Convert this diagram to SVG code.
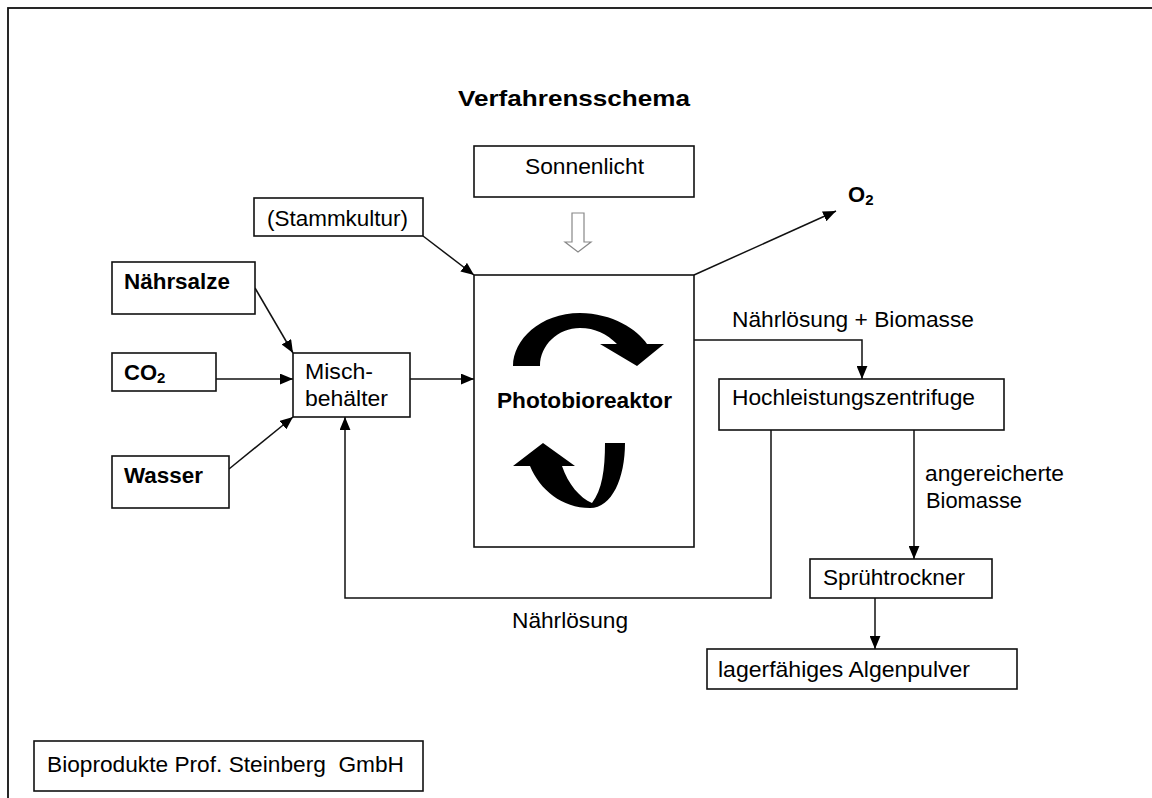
<svg xmlns="http://www.w3.org/2000/svg" width="1152" height="798" viewBox="0 0 1152 798">
<defs>
<style>
.box{fill:#fff;stroke:#111;stroke-width:1.6}
.t{font-family:"Liberation Sans",Arial,sans-serif;font-size:22px;fill:#000}
.b{font-weight:bold}
.c{fill:none;stroke:#111;stroke-width:1.5}
</style>
<marker id="ah" viewBox="0 0 12 10" refX="12" refY="5" markerWidth="13" markerHeight="11" markerUnits="userSpaceOnUse" orient="auto">
<path d="M0,0 L12,5 L0,10 z" fill="#000"/>
</marker>
</defs>
<rect width="1152" height="798" fill="#fff"/>
<rect x="8" y="8" width="1200" height="900" fill="none" stroke="#111" stroke-width="1.8"/>
<text class="t b" x="458" y="106" font-size="24" textLength="232" lengthAdjust="spacingAndGlyphs">Verfahrensschema</text>

<g id="connectors">
<line class="c" x1="255" y1="288" x2="293" y2="353" marker-end="url(#ah)"/>
<line class="c" x1="216" y1="379" x2="293" y2="379" marker-end="url(#ah)"/>
<line class="c" x1="229" y1="469" x2="293" y2="417" marker-end="url(#ah)"/>
<line class="c" x1="410" y1="379" x2="474" y2="379" marker-end="url(#ah)"/>
<line class="c" x1="423" y1="236" x2="474" y2="275" marker-end="url(#ah)"/>
<line class="c" x1="694" y1="275" x2="836" y2="211" marker-end="url(#ah)"/>
<polyline class="c" points="694,340 862,340 862,379" marker-end="url(#ah)"/>
<line class="c" x1="914" y1="430" x2="914" y2="559" marker-end="url(#ah)"/>
<line class="c" x1="875" y1="598" x2="875" y2="649" marker-end="url(#ah)"/>
<polyline class="c" points="771,430 771,598 345,598 345,417" marker-end="url(#ah)"/>
<path d="M572,213 L584,213 L584,242 L591,242 L578,252 L565,242 L572,242 Z" fill="#fff" stroke="#888" stroke-width="1.2"/>
<text class="t" x="512" y="628" textLength="116" lengthAdjust="spacingAndGlyphs">Nährlösung</text>
<text class="t" x="732" y="327" textLength="242" lengthAdjust="spacingAndGlyphs">Nährlösung + Biomasse</text>
<text class="t" x="925" y="481" textLength="139" lengthAdjust="spacingAndGlyphs">angereicherte</text>
<text class="t" x="926" y="508" textLength="96" lengthAdjust="spacingAndGlyphs">Biomasse</text>
</g>

<g id="sonnenlicht">
<rect class="box" x="474" y="146" width="220" height="51"/>
<text class="t" x="525" y="174" textLength="119" lengthAdjust="spacingAndGlyphs">Sonnenlicht</text>
</g>
<g id="stammkultur">
<rect class="box" x="254" y="198" width="169" height="38"/>
<text class="t" x="267" y="226" textLength="141" lengthAdjust="spacingAndGlyphs">(Stammkultur)</text>
</g>
<g id="naehrsalze">
<rect class="box" x="112" y="262" width="143" height="52"/>
<text class="t b" x="124" y="289" textLength="106" lengthAdjust="spacingAndGlyphs">Nährsalze</text>
</g>
<g id="co2">
<rect class="box" x="112" y="353" width="104" height="38"/>
<text class="t b" x="124" y="380">CO<tspan font-size="15" dy="3">2</tspan></text>
</g>
<g id="wasser">
<rect class="box" x="112" y="456" width="117" height="52"/>
<text class="t b" x="124" y="483" textLength="79" lengthAdjust="spacingAndGlyphs">Wasser</text>
</g>
<g id="mischbehaelter">
<rect class="box" x="293" y="353" width="117" height="64"/>
<text class="t" x="305" y="379" textLength="68" lengthAdjust="spacingAndGlyphs">Misch-</text>
<text class="t" x="305" y="406" textLength="83" lengthAdjust="spacingAndGlyphs">behälter</text>
</g>
<g id="photobioreaktor">
<rect class="box" x="474" y="275" width="220" height="272"/>
<path d="M513,366 C513,340 540,313 580,313 C612,313 638,330 647,344 L664,344 L637,366 L600,344 L617,344 C607,334 595,328 580,328 C558,328 540,345 540,366 Z" fill="#000"/>
<path d="M605,443 L625,443 C625,478 612,508 590,508 C562,508 540,490 530,466 L513,466 L543,443 L575,466 L562,466 C568,484 580,498 592,503 C602,490 605,470 605,443 Z" fill="#000"/>
<text class="t b" x="497" y="408" textLength="175" lengthAdjust="spacingAndGlyphs">Photobioreaktor</text>
</g>
<g id="o2">
<text class="t b" x="848" y="202">O<tspan font-size="15" dy="3">2</tspan></text>
</g>
<g id="zentrifuge">
<rect class="box" x="719" y="379" width="285" height="51"/>
<text class="t" x="732" y="405" textLength="243" lengthAdjust="spacingAndGlyphs">Hochleistungszentrifuge</text>
</g>
<g id="spruehtrockner">
<rect class="box" x="810" y="559" width="182" height="39"/>
<text class="t" x="823" y="585" textLength="142" lengthAdjust="spacingAndGlyphs">Sprühtrockner</text>
</g>
<g id="algenpulver">
<rect class="box" x="707" y="649" width="310" height="40"/>
<text class="t" x="718" y="677" textLength="252" lengthAdjust="spacingAndGlyphs">lagerfähiges Algenpulver</text>
</g>
<g id="firma">
<rect class="box" x="34" y="741" width="389" height="50"/>
<text class="t" x="47" y="772" textLength="357" lengthAdjust="spacingAndGlyphs" xml:space="preserve">Bioprodukte Prof. Steinberg  GmbH</text>
</g>
</svg>
